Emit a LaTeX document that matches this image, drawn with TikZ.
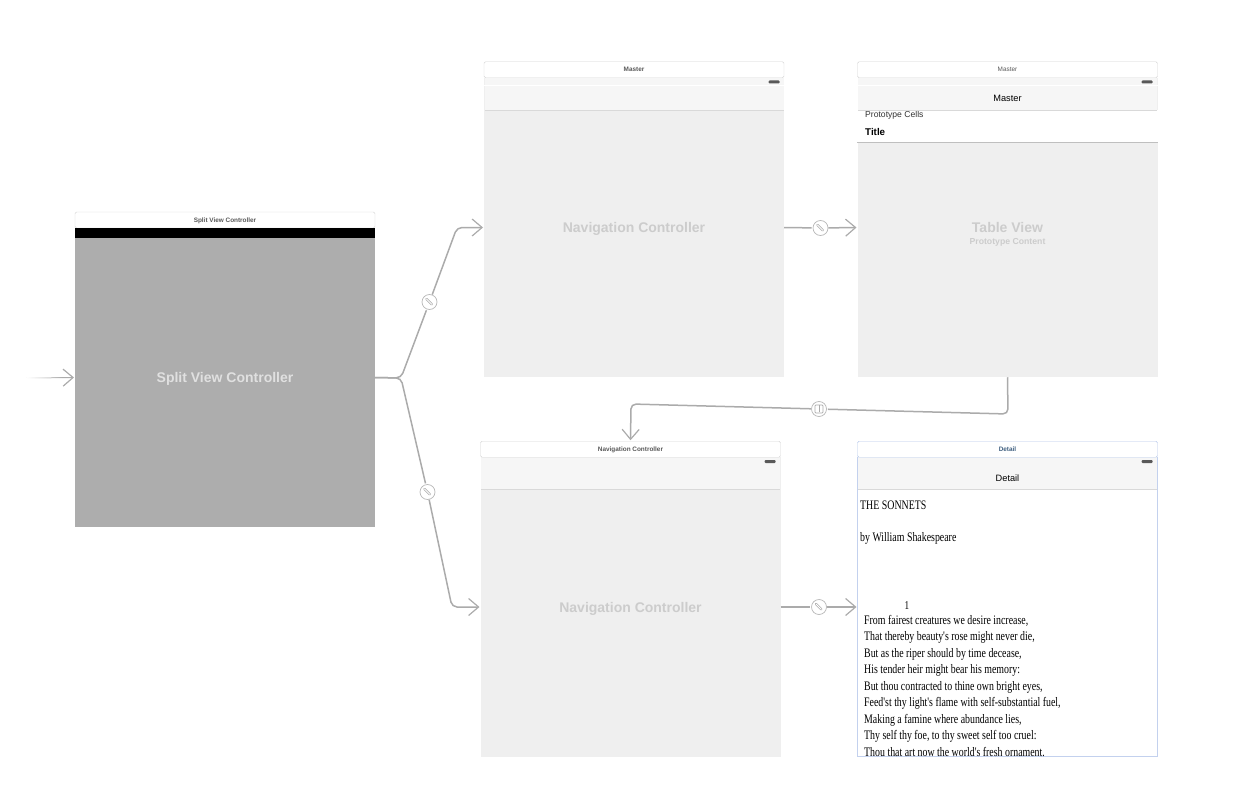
\documentclass[tikz,border=0pt]{standalone}
\usepackage{fontspec}
\setmainfont{Liberation Sans}
\newfontfamily\poemfont[FakeStretch=0.76]{Liberation Serif}
\usetikzlibrary{arrows.meta,positioning,fadings}

\definecolor{linegray}{HTML}{ABABAB}
\definecolor{bodygray}{HTML}{EFEFEF}
\definecolor{bargray}{HTML}{F6F6F6}
\definecolor{rulegray}{HTML}{D4D4D4}
\definecolor{labelgray}{HTML}{CCCCCC}
\definecolor{splitgray}{HTML}{ADADAD}
\definecolor{selectblue}{HTML}{B4C6EA}
\definecolor{detailtext}{HTML}{3F5F80}

\begin{document}
\begin{tikzpicture}[x=1pt,y=-1pt,shorten >=1pt,
    scene node/.style={minimum width=300pt,minimum height=299.5pt,inner sep=0pt,outer sep=0pt,
      fill=bodygray,text=labelgray,text depth=0pt,font=\fontsize{14}{17}\selectfont\bfseries},
    title bar/.style={draw=rulegray,fill=white,rounded corners=1.5pt,minimum width=300pt,minimum height=16pt,
      inner sep=0pt,outer sep=0pt,text=black!65,text depth=0pt,font=\fontsize{6.4}{7}\selectfont\bfseries},
    nav bar/.style={fill=bargray,minimum width=299pt,minimum height=32pt,inner sep=0pt,outer sep=0pt},
    nav label/.style={inner sep=0pt,text depth=0pt,font=\fontsize{9.2}{10}\selectfont},
    battery/.style={fill=black!65,rounded corners=1pt,minimum width=11pt,minimum height=3pt,inner sep=0pt},
    poem line/.style={anchor=west,inner sep=0pt,font=\poemfont\fontsize{13}{15}\selectfont},
    segue/.style={circle,draw=linegray!85,fill=white,minimum size=15pt,inner sep=0pt,line width=.7pt},
    show segue/.style={segue,path picture={
      \draw[linegray,line width=2.4pt,line cap=round] ([shift={(-3,-3)}]path picture bounding box.center) -- ([shift={(3,3)}]path picture bounding box.center);
      \draw[white,line width=.9pt,line cap=round] ([shift={(-3,-3)}]path picture bounding box.center) -- ([shift={(3,3)}]path picture bounding box.center);}},
    detail segue/.style={segue,path picture={\draw[linegray,line width=.7pt,rounded corners=.8pt]
      ([shift={(-4,-4)}]path picture bounding box.center) rectangle ([shift={(4,4)}]path picture bounding box.center);
      \draw[linegray,line width=.7pt] ([shift={(0,-4)}]path picture bounding box.center) -- ([shift={(0,4)}]path picture bounding box.center);}},
    link/.style={draw=linegray,line width=1.5pt,rounded corners=5pt},
    open arrow/.style={-{Straight Barb[length=10pt,width=17pt,line width=1.2pt]}}]
  \useasboundingbox (0,0) rectangle (1243,808);

  \node[scene node,fill=splitgray,text=black!12,minimum height=299pt] (split) at (225,377.5) {Split View Controller};
  \node[title bar] (splittitle) [above=0pt of split] {Split View Controller};
  \node[fill=black,minimum width=300pt,minimum height=10pt,inner sep=0pt] (splitbar) at (225,233) {};

  \node[scene node] (masternav) at (634,227.5) {Navigation Controller};
  \node[nav bar] (masternavbar) at (634,94) {};
  \node[title bar] (masternavtitle) [above=0pt of masternav] {Master};
  \node[battery] (masternavbattery) at (774,82) {};

  \node[scene node] (table) at (1007.5,227.5) {Table View};
  \node[nav bar] (tablebar) at (1007.5,94) {};
  \node[nav label] (tablelabel) at (1007.5,98.5) {Master};
  \node[title bar,font=\fontsize{6.4}{7}\selectfont] (tabletitle) [above=0pt of table] {Master};
  \node[battery] (tablebattery) at (1147,82) {};
  \node[fill=white,minimum width=300pt,minimum height=32pt,inner sep=0pt] (tablecell) at (1007.5,126) {};
  \node[anchor=west,text=black!80,inner sep=0pt,font=\fontsize{8.6}{9}\selectfont] (prototype) at (865,115) {Prototype Cells};
  \node[anchor=west,inner sep=0pt,font=\fontsize{9.8}{11}\selectfont\bfseries] (celltitle) at (865,131.5) {Title};
  \node[text=labelgray,inner sep=0pt,font=\fontsize{8.7}{10}\selectfont\bfseries] (tablenote) at (1007.5,242) {Prototype Content};

  \node[scene node] (detailnav) at (630.5,607) {Navigation Controller};
  \node[nav bar] (detailnavbar) at (630.5,473) {};
  \node[title bar] (detailnavtitle) [above=0pt of detailnav] {Navigation Controller};
  \node[battery] (detailnavbattery) at (770,461.5) {};

  \node[scene node,fill=white,draw=selectblue!80,line width=.6pt] (detail) at (1007.5,607) {};
  \node[nav bar] (detailbar) at (1007.5,473) {};
  \node[nav label] (detaillabel) at (1007.5,478) {Detail};
  \node[title bar,draw=selectblue,text=detailtext] (detailtitle) [above=0pt of detail] {Detail};
  \node[battery] (detailbattery) at (1147,461.5) {};
  \node[poem line] (sonnets) at (860,505) {THE SONNETS};
  \node[poem line] (author) at (860,538) {by William Shakespeare};
  \node[inner sep=0pt,font=\poemfont\fontsize{12}{15}\selectfont] (number) at (907,605.5) {1};
  \node[anchor=north west,inner sep=0pt,align=left,font=\poemfont\fontsize{13}{16.5}\selectfont] (poem) at (864,615) {From fairest creatures we desire increase,\\
    That thereby beauty's rose might never die,\\
    But as the riper should by time decease,\\
    His tender heir might bear his memory:\\
    But thou contracted to thine own bright eyes,\\
    Feed'st thy light's flame with self-substantial fuel,\\
    Making a famine where abundance lies,\\
    Thy self thy foe, to thy sweet self too cruel:\\
    Thou that art now the world's fresh ornament.};

  % bar rules
  \foreach \bar in {masternavbar,tablebar,detailnavbar,detailbar}
    \draw[black!15,line width=.9pt,shorten >=0pt] (\bar.south west) -- (\bar.south east);
  \foreach \bar in {masternavtitle,tabletitle}
    \draw[white,line width=.7pt,shorten >=0pt] ([yshift=-8pt]\bar.south west) -- ([yshift=-8pt]\bar.south east);
  \draw[black!25,line width=1pt,shorten >=0pt] (tablecell.south west) -- (tablecell.south east);

  \coordinate (entry) at (27,378);
  \coordinate (branch) at (401,378);
  \coordinate (upcorner) at (457,227.5);
  \coordinate (downcorner) at (452,607);
  \coordinate (tablecorner) at (1008,414);
  \coordinate (navcorner) at (631,404);

  \node[show segue] (upsegue) at (429.5,302) {};
  \node[show segue] (downsegue) at (427.5,492) {};
  \node[show segue] (tablesegue) at (820.5,228) {};
  \node[show segue] (detailsegue) at (819,607) {};
  \node[detail segue] (showdetail) at (819,409) {};

  \draw[link,open arrow,line width=1pt] (entry) -- (split.west);
  \fill[white,path fading=east] (27,375) rectangle (62,381);
  \draw[link] (split.east) -- (branch) -- (upsegue);
  \draw[link,open arrow] (upsegue) -- (upcorner) -- (masternav.west);
  \draw[link] (split.east) -- (branch) -- (downsegue);
  \draw[link,open arrow] (downsegue) -- (downcorner) -- (detailnav.west);
  \draw[link] (masternav.east) -- (tablesegue);
  \draw[link,open arrow] (tablesegue) -- (table.west);
  \draw[link] (detailnav.east) -- (detailsegue);
  \draw[link,open arrow] (detailsegue) -- (detail.west);
  \draw[link] (table.south) -- (tablecorner) -- (showdetail);
  \draw[link,open arrow] (showdetail) -- (navcorner) -- (detailnavtitle.north);
\end{tikzpicture}
\end{document}
